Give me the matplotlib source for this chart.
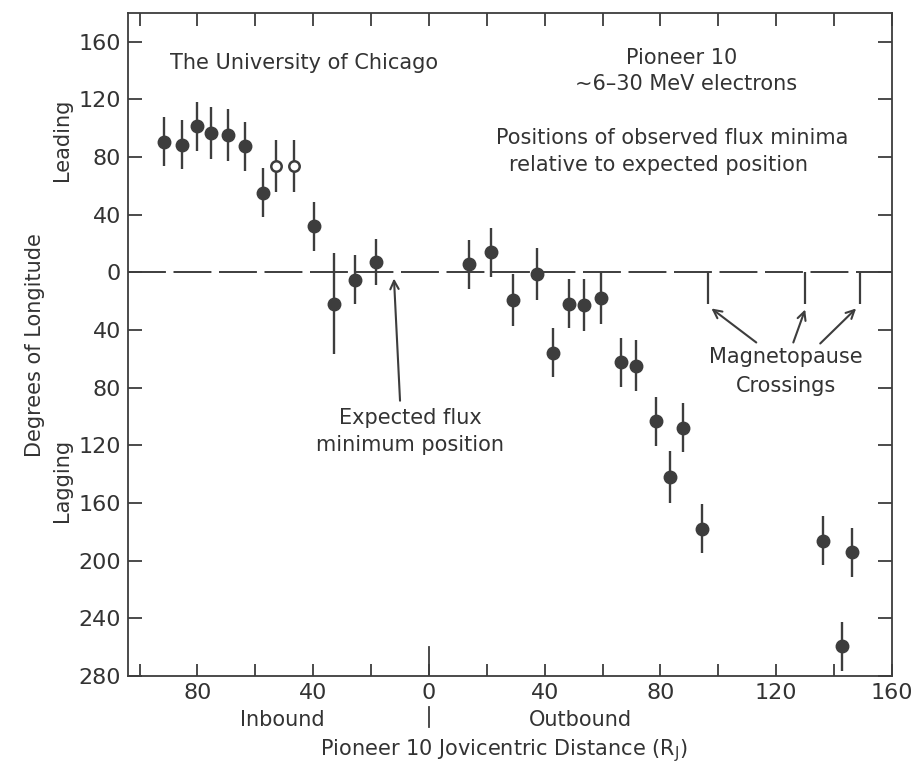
import numpy as np
import matplotlib
matplotlib.use("Agg")
from matplotlib import pyplot as plt
from matplotlib.ticker import MultipleLocator, FuncFormatter

plt.rcParams['font.family'] = ['DejaVu Sans']
plt.rcParams['mathtext.default'] = 'regular'

# inbound distances are plotted as negative R_J, lagging as negative degrees
dist_filled = [-91.4, -85.4, -80.2, -75.3, -69.4, -63.4, -57.5, -39.8, -32.8, -25.6, -18.2,
               13.8, 21.6, 29.0, 37.5, 42.8, 48.5, 53.4, 59.4, 66.3, 71.5,
               78.4, 83.3, 87.9, 94.5, 136.2, 142.6, 146.3]
shift_filled = [90.5, 88.7, 101.4, 97.0, 95.6, 87.5, 55.3, 32.0, -21.8, -5.1, 7.2,
                5.6, 14.1, -19.4, -1.0, -55.8, -21.8, -22.9, -17.8, -62.3, -64.6,
                -103.4, -141.7, -107.9, -178.0, -186.0, -259.5, -194.0]
err_filled = [17, 17, 17, 18, 18, 17, 17, 17, 35, 17, 16,
              17, 17, 18, 18, 17, 17, 18, 18, 17, 18,
              17, 18, 17, 17, 17, 17, 17]

dist_open = [-52.8, -46.8]
shift_open = [74.0, 73.6]
err_open = [18, 18]

crossings = [96.3, 130.0, 149.0]

ink = '#3d3d3d'

fig = plt.figure(figsize=(9.17, 7.64), dpi=100)
ax = fig.add_axes([128 / 917, 88 / 764, 764 / 917, 663 / 764])

ax.axhline(0, color=ink, lw=1.4, dashes=(19.5, 3.9))
ax.vlines(crossings, -22, 0, color=ink, lw=1.6)

ax.errorbar(dist_filled, shift_filled, yerr=err_filled, fmt='o', color=ink,
            ms=9, elinewidth=1.7, capsize=0)
ax.errorbar(dist_open, shift_open, yerr=err_open, fmt='o', color=ink, mfc='white',
            mec=ink, mew=1.8, ms=7.5, elinewidth=1.7, capsize=0)

ax.set_xlim(-104, 160)
ax.set_ylim(-280, 180)

ax.xaxis.set_major_locator(MultipleLocator(20))
ax.yaxis.set_major_locator(MultipleLocator(40))
ax.xaxis.set_major_formatter(FuncFormatter(lambda v, p: f'{abs(v):.0f}' if round(v) % 40 == 0 else ''))
ax.yaxis.set_major_formatter(FuncFormatter(lambda v, p: f'{abs(v):.0f}' if v < 170 else ''))
ax.tick_params(axis='both', direction='in', colors=ink, labelcolor='#333333',
               labelsize=16, width=1.3)
ax.tick_params(axis='x', length=9, top=True, pad=5)
ax.tick_params(axis='y', length=10, right=True, pad=5)
for s in ax.spines.values():
    s.set_color(ink)
    s.set_linewidth(1.3)

# long tick at zero distance and the inbound / outbound separator
ax.axvline(0, ymin=0, ymax=0.043, color=ink, lw=1.3)
ax.plot([0, 0], [-0.047, -0.077], color=ink, lw=1.3,
        transform=ax.get_xaxis_transform(), clip_on=False)

txt = dict(color='#333333', fontsize=15, ha='center', va='center')
ax.text(-43.3, 145, 'The University of Chicago', **txt)
ax.text(87.3, 148.6, 'Pioneer 10', **txt)
ax.text(89, 131, '~6–30 MeV electrons', **txt)
ax.text(84, 93, 'Positions of observed flux minima', **txt)
ax.text(79.3, 74.3, 'relative to expected position', **txt)
ax.text(-6.5, -100.7, 'Expected flux', **txt)
ax.text(-6.5, -120, 'minimum position', **txt)
ax.text(123.4, -59, 'Magnetopause', **txt)
ax.text(123.4, -78.5, 'Crossings', **txt)

arrow = dict(arrowstyle='->,head_length=0.6,head_width=0.3', color=ink, lw=1.5,
             shrinkA=0, shrinkB=0)
ax.annotate('', xy=(-12.1, -4.2), xytext=(-10, -89), arrowprops=arrow)
ax.annotate('', xy=(97.6, -25), xytext=(113.1, -48.6), arrowprops=arrow)
ax.annotate('', xy=(130, -25.7), xytext=(125.9, -48.6), arrowprops=arrow)
ax.annotate('', xy=(147.6, -25), xytext=(135.2, -49.3), arrowprops=arrow)

xt = ax.get_xaxis_transform()
ax.text(-50.7, -0.066, 'Inbound', transform=xt, **txt)
ax.text(52.4, -0.066, 'Outbound', transform=xt, **txt)
ax.text(25.9, -0.112, 'Pioneer 10 Jovicentric Distance (R$_J$)', transform=xt, **txt)

fig.text(35 / 917, 1 - 345 / 764, 'Degrees of Longitude', rotation=90, **txt)
fig.text(62 / 917, 1 - 139.5 / 764, 'Leading', rotation=90, **txt)
fig.text(62 / 917, 1 - 480 / 764, 'Lagging', rotation=90, **txt)

fig.savefig('out.png', dpi=100, facecolor='white')
